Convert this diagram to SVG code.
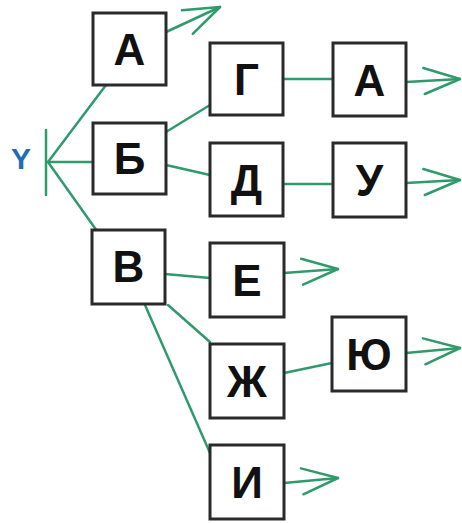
<svg xmlns="http://www.w3.org/2000/svg" width="462" height="523" viewBox="0 0 462 523">
<defs>
<style>
.box{fill:#fff;stroke:#2a2a2a;stroke-width:3}
.lbl{font-family:"Liberation Sans",Arial,sans-serif;font-weight:bold;font-size:44px;fill:#111;text-anchor:middle}
.ln{stroke:#2f9a6c;stroke-width:2.5;fill:none;stroke-linecap:round}
</style>
<marker id="arr" markerUnits="userSpaceOnUse" markerWidth="44" markerHeight="34" viewBox="-40 -17 44 34" refX="0" refY="0" orient="auto">
<path d="M-36,-13 L0,0 L-36,13" fill="none" stroke="#2f9a6c" stroke-width="2.5" stroke-linecap="round" stroke-linejoin="round"/>
</marker>
</defs>
<rect width="462" height="523" fill="#fff"/>
<g id="connectors">
<line class="ln" x1="46" y1="130" x2="46" y2="195" stroke-width="4"/>
<line class="ln" x1="48" y1="162" x2="106" y2="85"/>
<line class="ln" x1="48" y1="162" x2="93" y2="162"/>
<line class="ln" x1="48" y1="162" x2="97" y2="231"/>
<line class="ln" x1="166" y1="32" x2="220" y2="7" marker-end="url(#arr)"/>
<line class="ln" x1="166" y1="132" x2="210" y2="105"/>
<line class="ln" x1="166" y1="165" x2="210" y2="175"/>
<line class="ln" x1="283" y1="79" x2="333" y2="79"/>
<line class="ln" x1="406" y1="82" x2="460" y2="79" marker-end="url(#arr)"/>
<line class="ln" x1="283" y1="184" x2="333" y2="184"/>
<line class="ln" x1="406" y1="183" x2="460" y2="180" marker-end="url(#arr)"/>
<line class="ln" x1="165" y1="274" x2="210" y2="278"/>
<line class="ln" x1="284" y1="273" x2="338" y2="269" marker-end="url(#arr)"/>
<line class="ln" x1="168" y1="305" x2="210" y2="342"/>
<line class="ln" x1="145" y1="305" x2="210" y2="453"/>
<line class="ln" x1="284" y1="373" x2="332" y2="363"/>
<line class="ln" x1="406" y1="353" x2="460" y2="348" marker-end="url(#arr)"/>
<line class="ln" x1="284" y1="483" x2="338" y2="478" marker-end="url(#arr)"/>
</g>
<g id="Y"><text x="21" y="169" font-family="Liberation Sans,Arial,sans-serif" font-weight="bold" font-size="30" fill="#1f6db5" text-anchor="middle">Y</text></g>
<g id="nA"><rect class="box" x="93" y="13" width="73" height="72"/><text class="lbl" x="129.5" y="65">А</text></g>
<g id="nB"><rect class="box" x="93" y="123" width="73" height="71"/><text class="lbl" x="129.5" y="174">Б</text></g>
<g id="nV"><rect class="box" x="92" y="230" width="73" height="74"/><text class="lbl" x="128.5" y="282">В</text></g>
<g id="nG"><rect class="box" x="210" y="43" width="73" height="72"/><text class="lbl" x="246.5" y="95">Г</text></g>
<g id="nA2"><rect class="box" x="333" y="43" width="73" height="73"/><text class="lbl" x="369.5" y="96">А</text></g>
<g id="nD"><rect class="box" x="210" y="143" width="73" height="73"/><text class="lbl" x="246.5" y="196">Д</text></g>
<g id="nU"><rect class="box" x="333" y="143" width="73" height="74"/><text class="lbl" x="369.5" y="196">У</text></g>
<g id="nE"><rect class="box" x="210" y="243" width="74" height="74"/><text class="lbl" x="247" y="296">Е</text></g>
<g id="nZh"><rect class="box" x="210" y="344" width="74" height="74"/><text class="lbl" x="247" y="397">Ж</text></g>
<g id="nYu"><rect class="box" x="332" y="317" width="74" height="74"/><text class="lbl" x="369" y="370">Ю</text></g>
<g id="nI"><rect class="box" x="210" y="445" width="74" height="74"/><text class="lbl" x="247" y="498">И</text></g>
</svg>
